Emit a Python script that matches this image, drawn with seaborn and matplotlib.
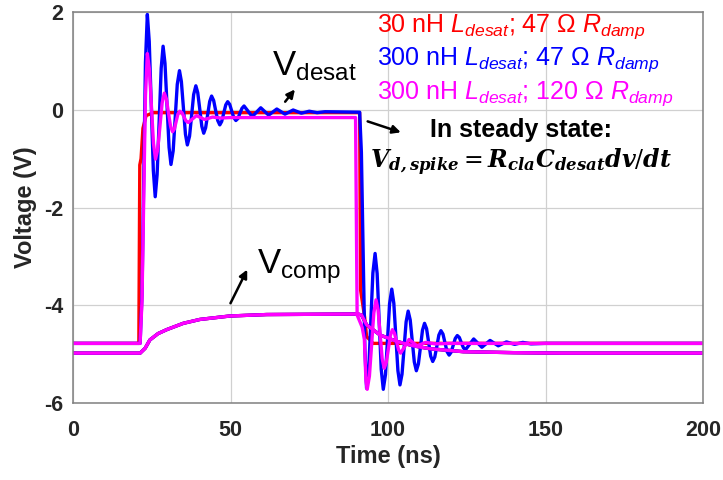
import matplotlib
matplotlib.use("Agg")
import matplotlib.pyplot as plt
import seaborn as sns

# ---- waveform samples (time in ns, voltage in V) ----
# 30 nH L_desat, 47 ohm R_damp
t_desat_red = [0, 20.9, 21.2, 21.6, 22.2, 23.2, 25.5, 91.0, 91.3, 92.6, 93.2, 95.3, 200]
v_desat_red = [-4.78, -4.78, -1.13, -1.00, -0.38, -0.12, -0.06, -0.06, -3.69, -4.25, -4.64, -4.78, -4.78]

# 300 nH L_desat, 47 ohm R_damp
t_desat_blue = [0, 21.3, 21.9, 22.45, 23.0, 23.6, 24.2, 24.85, 25.5, 26.1, 26.7, 27.35, 28.0,
                28.6, 29.2, 29.85, 30.5, 31.1, 31.8, 32.45, 33.1, 33.8, 34.4, 35.05, 35.7,
                36.3, 37.0, 37.65, 38.3, 39.0, 39.6, 40.25, 40.9, 41.5, 42.1, 42.75, 43.4,
                44.0, 44.65, 45.3, 45.95, 46.6, 47.2, 47.85, 48.5, 49.1, 49.75, 50.4, 51.05,
                51.7, 52.35, 53.0, 53.65, 54.3, 56.9, 59.6, 62.1, 64.7, 67.3, 69.9, 72.5,
                75.0, 77.5, 80.0, 91.0, 91.55, 92.1, 92.65, 93.2, 93.9, 94.55, 95.2, 95.9,
                96.55, 97.2, 97.85, 98.5, 99.2, 99.85, 100.5, 101.2, 101.85, 102.5, 103.15,
                103.8, 104.45, 105.1, 105.75, 106.4, 107.05, 107.7, 108.35, 109.0, 109.65,
                110.3, 110.95, 111.6, 112.25, 112.9, 113.55, 114.2, 114.85, 115.5, 116.15,
                116.8, 117.45, 118.1, 118.75, 119.4, 120.05, 120.7, 121.35, 122.0, 122.65,
                123.3, 123.95, 124.6, 127.2, 129.8, 132.4, 135.0, 137.6, 140.2, 142.8,
                145.4, 150.0, 200]
v_desat_blue = [-4.78, -4.78, -3.80, -1.42, 0.97, 1.95, 1.40, 0.09, -1.24, -1.78, -1.33, -0.24, 0.85,
                1.30, 0.95, 0.09, -0.77, -1.12, -0.84, -0.16, 0.52, 0.80, 0.58, 0.04, -0.50,
                -0.72, -0.54, -0.12, 0.31, 0.49, 0.35, 0.01, -0.34, -0.48, -0.37, -0.10, 0.17,
                0.28, 0.19, -0.02, -0.22, -0.31, -0.24, -0.07, 0.10, 0.165, 0.11, -0.03, -0.16,
                -0.22, -0.18, -0.07, 0.03, 0.077, -0.14, 0.04, -0.11, 0.015, -0.09, -0.005, -0.07,
                -0.03, -0.06, -0.04, -0.05, -0.87, -2.88, -4.88, -5.70, -5.30, -4.32, -3.34, -2.94,
                -3.35, -4.33, -5.31, -5.72, -5.42, -4.70, -3.97, -3.67, -3.96, -4.65, -5.34,
                -5.63, -5.41, -4.88, -4.34, -4.12, -4.30, -4.73, -5.16, -5.34, -5.20,
                -4.86, -4.51, -4.37, -4.48, -4.76, -5.04, -5.15, -5.06, -4.84, -4.61,
                -4.52, -4.59, -4.77, -4.95, -5.02, -4.96, -4.82, -4.68, -4.62, -4.66,
                -4.77, -4.87, -4.91, -4.69, -4.86, -4.72, -4.83, -4.75, -4.80, -4.76,
                -4.79, -4.78, -4.78]

# 300 nH L_desat, 120 ohm R_damp
t_desat_pink = [0, 21.3, 21.9, 22.45, 23.0, 23.6, 24.25, 24.9, 25.55, 26.2, 26.9, 27.6, 28.3,
                29.0, 29.65, 30.3, 30.95, 31.6, 32.2, 32.75, 33.3, 33.9, 34.6, 35.25, 35.9,
                36.6, 39.2, 41.8, 44.3, 47.0, 50.0, 89.7, 90.2, 91.8, 92.5, 93.0, 93.4,
                94.1, 94.8, 95.5, 96.2, 96.85, 97.5, 98.15, 98.8, 99.45, 100.1, 100.75,
                101.4, 102.05, 102.7, 103.35, 104.0, 106.7, 109.2, 112.0, 115.0, 120.0, 200]
v_desat_pink = [-4.78, -4.78, -3.91, -1.82, 0.28, 1.15, 0.83, 0.07, -0.69, -1.01, -0.81, -0.34, 0.14,
                0.34, 0.22, -0.06, -0.33, -0.45, -0.39, -0.24, -0.09, -0.03, -0.06, -0.15, -0.23,
                -0.26, -0.12, -0.20, -0.15, -0.17, -0.16, -0.16, -4.20, -4.45, -4.70, -5.55, -5.72,
                -5.45, -4.81, -4.16, -3.89, -4.09, -4.59, -5.09, -5.29, -5.17, -4.90, -4.62,
                -4.50, -4.57, -4.74, -4.91, -4.98, -4.70, -4.83, -4.76, -4.79, -4.78, -4.78]

# comparator-side voltage (nearly identical for all three cases)
t_comp = [0, 21.3, 22.9, 24.4, 27.0, 29.7, 35.0, 40.3, 49.8, 61.5, 90.5, 91.6, 93.2,
          97.5, 102.8, 108.0, 113.3, 123.9, 139.8, 155.0, 200]
v_comp = [-4.98, -4.98, -4.88, -4.71, -4.58, -4.50, -4.37, -4.29, -4.22, -4.19, -4.18, -4.20, -4.40,
          -4.61, -4.74, -4.83, -4.89, -4.95, -4.97, -4.98, -4.98]

x_ticks = [0, 50, 100, 150, 200]
y_ticks = [-6, -4, -2, 0, 2]

case_labels = [r"30 nH $L_{desat}$; 47 Ω $R_{damp}$",
               r"300 nH $L_{desat}$; 47 Ω $R_{damp}$",
               r"300 nH $L_{desat}$; 120 Ω $R_{damp}$"]
case_colors = ["#ff0000", "#0000ff", "#ff00ff"]

# ---- style ----
sns.set_theme(style="whitegrid")
plt.rcParams["font.family"] = ["Liberation Sans", "DejaVu Sans"]
plt.rcParams["mathtext.fontset"] = "custom"
plt.rcParams["mathtext.rm"] = "Liberation Sans"
plt.rcParams["mathtext.it"] = "Liberation Sans:italic"
plt.rcParams["mathtext.bf"] = "Liberation Sans:bold"

fig = plt.figure(figsize=(7.23, 4.80), dpi=100)
ax = fig.add_axes([73 / 723, 1 - 403 / 480, 630 / 723, 391 / 480])
ax.set_facecolor("white")

lw = 2.4
curves = [(t_desat_red, v_desat_red, case_colors[0]),
          (t_comp, v_comp, case_colors[0]),
          (t_desat_blue, v_desat_blue, case_colors[1]),
          (t_comp, v_comp, case_colors[1]),
          (t_desat_pink, v_desat_pink, case_colors[2]),
          (t_comp, v_comp, case_colors[2])]
for t, v, c in curves:
    sns.lineplot(x=t, y=v, color=c, linewidth=lw, sort=False, estimator=None, ax=ax,
                 solid_joinstyle="round")

ax.set_xlim(0, 200)
ax.set_ylim(-6, 2)
ax.set_xticks(x_ticks)
ax.set_yticks(y_ticks)
ax.set_xticklabels([str(v) for v in x_ticks], fontweight="bold", fontsize=15.5, color="#262626")
ax.set_yticklabels([str(v) for v in y_ticks], fontweight="bold", fontsize=15.5, color="#262626")
ax.tick_params(axis="x", direction="in", length=0, pad=12)
ax.tick_params(axis="y", direction="in", length=0, pad=7)
ax.grid(True, color="#d0d0d0", linewidth=0.9)
for s in ax.spines.values():
    s.set_visible(True)
    s.set_color("#808080")
    s.set_linewidth(1.1)

ax.set_xlabel("Time (ns)", fontweight="bold", fontsize=17, color="#262626", labelpad=3)
ax.set_ylabel("Voltage (V)", fontweight="bold", fontsize=17, color="#262626", labelpad=5)

# case legend as coloured text
for lab, c, yb in zip(case_labels, case_colors, [1.59, 0.91, 0.22]):
    ax.text(96.5, yb, lab, color=c, fontsize=18, va="baseline", ha="left")

# signal labels with arrows
ax.text(63.1, 0.71, r"V$_{\rm desat}$", fontsize=25, va="baseline", ha="left", color="black")
ax.annotate("", xy=(71.0, 0.46), xytext=(66.8, 0.12),
            arrowprops=dict(arrowstyle="-|>", color="black", lw=1.8, mutation_scale=12))
ax.text(58.3, -3.34, r"V$_{\rm comp}$", fontsize=25, va="baseline", ha="left", color="black")
ax.annotate("", xy=(55.7, -3.22), xytext=(49.6, -4.01),
            arrowprops=dict(arrowstyle="-|>", color="black", lw=1.8, mutation_scale=12))

# steady-state note
ax.annotate("", xy=(104.9, -0.48), xytext=(92.7, -0.22),
            arrowprops=dict(arrowstyle="-|>", color="black", lw=1.8, mutation_scale=12))
ax.text(113.3, -0.56, "In steady state:", fontsize=18, fontweight="bold", va="baseline",
        ha="left", color="black")
ax.text(94.3, -1.19,
        r"$\mathbfit{V}_{\mathbfit{d,spike}} = \mathbfit{R}_{\mathbfit{cla}}"
        r"\mathbfit{C}_{\mathbfit{desat}}\mathbfit{dv}/\mathbfit{dt}$",
        fontsize=17, va="baseline", ha="left", color="black", math_fontfamily="dejavuserif")

fig.savefig("out.png", dpi=100)
